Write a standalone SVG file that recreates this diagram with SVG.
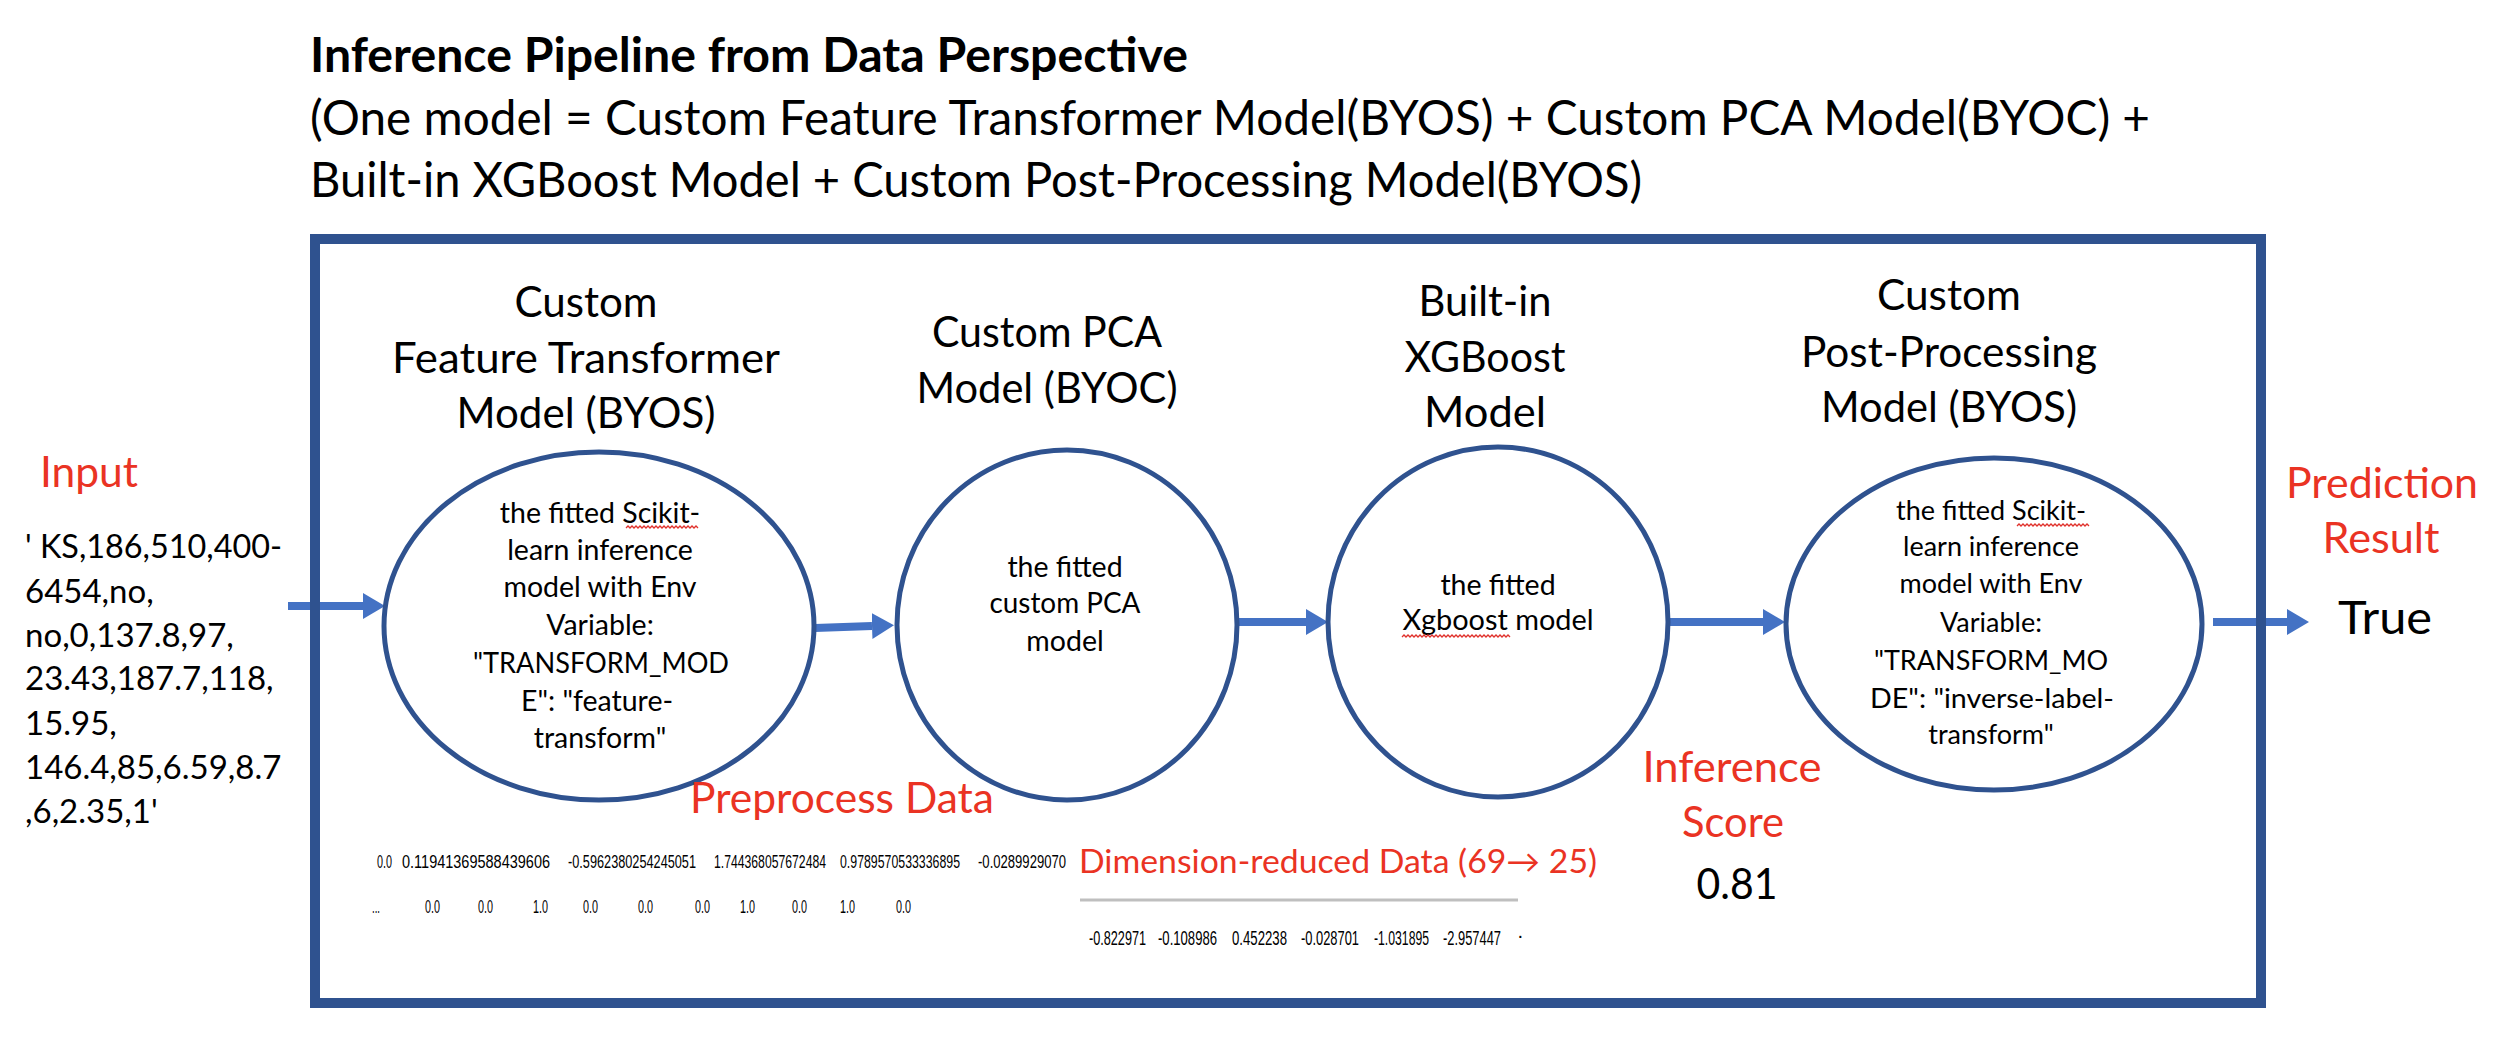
<svg xmlns="http://www.w3.org/2000/svg" width="2496" height="1064" viewBox="0 0 2496 1064">
<style>
.t{font-family:Lato,"Liberation Sans",sans-serif;fill:#000}
.tl{font-size:48px}
.tb{font-size:47px;font-weight:bold}
.h{font-size:42px;text-anchor:middle}
.in{font-size:28.5px;text-anchor:middle}
.in4{font-size:27px;text-anchor:middle}
.red{fill:#EA3323;font-size:42px}
.mid{text-anchor:middle}
.data{font-size:33px}
.big{font-size:46px}
.num{font-family:"Liberation Sans",Arial,sans-serif;font-size:18px;fill:#000}
.num2{font-family:"Liberation Sans",Arial,sans-serif;font-size:20px;fill:#000}
.node{fill:#fff;stroke:#2F528F;stroke-width:5}
.conn{stroke:#4472C4;stroke-width:8;fill:none;marker-end:url(#ah)}
.sq{fill:none;stroke:#E0312B;stroke-width:1.3}
.frame{fill:none;stroke:#2F528F;stroke-width:10}
</style>
<defs>
<marker id="ah" markerUnits="userSpaceOnUse" markerWidth="22" markerHeight="26" viewBox="0 0 22 26" refX="0" refY="13" orient="auto"><path d="M0,0 L22,13 L0,26 z" fill="#4472C4"/></marker>
</defs>
<rect width="2496" height="1064" fill="#fff"/>

<g id="title">
<text class="t tb" x="310" y="72" textLength="878" lengthAdjust="spacingAndGlyphs">Inference Pipeline from Data Perspective</text>
<text class="t tl" x="310" y="135" textLength="1840" lengthAdjust="spacingAndGlyphs">(One model = Custom Feature Transformer Model(BYOS) + Custom PCA Model(BYOC) +</text>
<text class="t tl" x="310" y="197" textLength="1332" lengthAdjust="spacingAndGlyphs">Built-in XGBoost Model + Custom Post-Processing Model(BYOS)</text>
</g>

<g id="connectors">
<line class="conn" x1="288" y1="606" x2="363" y2="606"/>
<line class="conn" x1="815" y1="628" x2="872" y2="626"/>
<line class="conn" x1="1237" y1="622" x2="1306" y2="622"/>
<line class="conn" x1="1670" y1="622" x2="1763" y2="622"/>
<line class="conn" x1="2213" y1="622" x2="2287" y2="622"/>
</g>

<rect class="frame" x="315" y="239" width="1946" height="764"/>

<g id="input">
<text class="t red" x="40" y="487" textLength="98" lengthAdjust="spacingAndGlyphs">Input</text>
<text class="t data" x="25" y="558" textLength="257" lengthAdjust="spacingAndGlyphs">' KS,186,510,400-</text>
<text class="t data" x="25" y="603">6454,no,</text>
<text class="t data" x="25" y="647">no,0,137.8,97,</text>
<text class="t data" x="25" y="690">23.43,187.7,118,</text>
<text class="t data" x="25" y="735">15.95,</text>
<text class="t data" x="25" y="779">146.4,85,6.59,8.7</text>
<text class="t data" x="25" y="823">,6,2.35,1'</text>
</g>

<g id="node-feature-transformer">
<text class="t h" x="586" y="317" textLength="143" lengthAdjust="spacingAndGlyphs">Custom</text>
<text class="t h" x="586" y="373" textLength="388" lengthAdjust="spacingAndGlyphs">Feature Transformer</text>
<text class="t h" x="586" y="428" textLength="259" lengthAdjust="spacingAndGlyphs">Model (BYOS)</text>
<ellipse class="node" cx="599" cy="626" rx="215" ry="174"/>
<text class="t in" x="600" y="523">the fitted Scikit-</text>
<text class="t in" x="600" y="560">learn inference</text>
<text class="t in" x="600" y="597">model with Env</text>
<text class="t in" x="600" y="635">Variable:</text>
<text class="t in" x="601" y="673" textLength="256" lengthAdjust="spacingAndGlyphs">"TRANSFORM_MOD</text>
<text class="t in" x="597" y="711">E": "feature-</text>
<text class="t in" x="600" y="748">transform"</text>
<path class="sq" d="M626,528 l2,-2 l2,2 l2,-2 l2,2 l2,-2 l2,2 l2,-2 l2,2 l2,-2 l2,2 l2,-2 l2,2 l2,-2 l2,2 l2,-2 l2,2 l2,-2 l2,2 l2,-2 l2,2 l2,-2 l2,2 l2,-2 l2,2 l2,-2 l2,2 l2,-2 l2,2 l2,-2 l2,2 l2,-2 l2,2 l2,-2 l2,2 l2,-2 l2,2"/>
</g>

<g id="node-pca">
<text class="t h" x="1047" y="347" textLength="230" lengthAdjust="spacingAndGlyphs">Custom PCA</text>
<text class="t h" x="1047" y="403" textLength="261" lengthAdjust="spacingAndGlyphs">Model (BYOC)</text>
<ellipse class="node" cx="1067" cy="625" rx="170" ry="175"/>
<text class="t in" x="1065" y="577">the fitted</text>
<text class="t in" x="1065" y="613" textLength="151" lengthAdjust="spacingAndGlyphs">custom PCA</text>
<text class="t in" x="1065" y="651">model</text>
</g>

<g id="node-xgboost">
<text class="t h" x="1485" y="316" textLength="133" lengthAdjust="spacingAndGlyphs">Built-in</text>
<text class="t h" x="1485" y="372" textLength="161" lengthAdjust="spacingAndGlyphs">XGBoost</text>
<text class="t h" x="1485" y="427" textLength="122" lengthAdjust="spacingAndGlyphs">Model</text>
<ellipse class="node" cx="1498" cy="622" rx="170" ry="175"/>
<text class="t in" x="1498" y="595">the fitted</text>
<text class="t in" x="1498" y="630" textLength="191" lengthAdjust="spacingAndGlyphs">Xgboost model</text>
<path class="sq" d="M1402,637 l2,-2 l2,2 l2,-2 l2,2 l2,-2 l2,2 l2,-2 l2,2 l2,-2 l2,2 l2,-2 l2,2 l2,-2 l2,2 l2,-2 l2,2 l2,-2 l2,2 l2,-2 l2,2 l2,-2 l2,2 l2,-2 l2,2 l2,-2 l2,2 l2,-2 l2,2 l2,-2 l2,2 l2,-2 l2,2 l2,-2 l2,2 l2,-2 l2,2 l2,-2 l2,2 l2,-2 l2,2 l2,-2 l2,2 l2,-2 l2,2 l2,-2 l2,2 l2,-2 l2,2 l2,-2 l2,2 l2,-2 l2,2 l2,-2 l2,2"/>
</g>

<g id="node-postprocessing">
<text class="t h" x="1949" y="310" textLength="144" lengthAdjust="spacingAndGlyphs">Custom</text>
<text class="t h" x="1949" y="367" textLength="296" lengthAdjust="spacingAndGlyphs">Post-Processing</text>
<text class="t h" x="1949" y="422" textLength="256" lengthAdjust="spacingAndGlyphs">Model (BYOS)</text>
<ellipse class="node" cx="1994" cy="624" rx="208" ry="166"/>
<text class="t in4" x="1991" y="520">the fitted Scikit-</text>
<text class="t in4" x="1991" y="556">learn inference</text>
<text class="t in4" x="1991" y="593">model with Env</text>
<text class="t in4" x="1991" y="632">Variable:</text>
<text class="t in4" x="1991" y="670">"TRANSFORM_MO</text>
<text class="t in4" x="1992" y="708" textLength="244" lengthAdjust="spacingAndGlyphs">DE": "inverse-label-</text>
<text class="t in4" x="1991" y="744">transform"</text>
<path class="sq" d="M2017,526 l2,-2 l2,2 l2,-2 l2,2 l2,-2 l2,2 l2,-2 l2,2 l2,-2 l2,2 l2,-2 l2,2 l2,-2 l2,2 l2,-2 l2,2 l2,-2 l2,2 l2,-2 l2,2 l2,-2 l2,2 l2,-2 l2,2 l2,-2 l2,2 l2,-2 l2,2 l2,-2 l2,2 l2,-2 l2,2 l2,-2 l2,2 l2,-2 l2,2"/>
</g>

<g id="output">
<text class="t red mid" x="2382" y="498" textLength="192" lengthAdjust="spacingAndGlyphs">Prediction</text>
<text class="t red mid" x="2381" y="553" textLength="117" lengthAdjust="spacingAndGlyphs">Result</text>
<text class="t big mid" x="2385" y="634" textLength="94" lengthAdjust="spacingAndGlyphs">True</text>
</g>

<g id="inference-score">
<text class="t red mid" x="1732" y="782" textLength="179" lengthAdjust="spacingAndGlyphs">Inference</text>
<text class="t red mid" x="1733" y="837" textLength="102" lengthAdjust="spacingAndGlyphs">Score</text>
<text class="t mid" style="font-size:42px" x="1737" y="899" textLength="81" lengthAdjust="spacingAndGlyphs">0.81</text>
</g>

<g id="preprocess-data">
<text class="t red" x="690" y="813" textLength="304" lengthAdjust="spacingAndGlyphs">Preprocess Data</text>
<text class="num" x="377" y="868" textLength="15" lengthAdjust="spacingAndGlyphs">0.0</text>
<text class="num" x="402" y="868" textLength="148" lengthAdjust="spacingAndGlyphs">0.11941369588439606</text>
<text class="num" x="568" y="868" textLength="128" lengthAdjust="spacingAndGlyphs">-0.5962380254245051</text>
<text class="num" x="714" y="868" textLength="112" lengthAdjust="spacingAndGlyphs">1.744368057672484</text>
<text class="num" x="840" y="868" textLength="120" lengthAdjust="spacingAndGlyphs">0.9789570533336895</text>
<text class="num" x="978" y="868" textLength="88" lengthAdjust="spacingAndGlyphs">-0.0289929070</text>
<text class="num" x="372" y="913" textLength="8" lengthAdjust="spacingAndGlyphs">...</text>
<text class="num" x="425" y="913" textLength="15" lengthAdjust="spacingAndGlyphs">0.0</text>
<text class="num" x="478" y="913" textLength="15" lengthAdjust="spacingAndGlyphs">0.0</text>
<text class="num" x="533" y="913" textLength="15" lengthAdjust="spacingAndGlyphs">1.0</text>
<text class="num" x="583" y="913" textLength="15" lengthAdjust="spacingAndGlyphs">0.0</text>
<text class="num" x="638" y="913" textLength="15" lengthAdjust="spacingAndGlyphs">0.0</text>
<text class="num" x="695" y="913" textLength="15" lengthAdjust="spacingAndGlyphs">0.0</text>
<text class="num" x="740" y="913" textLength="15" lengthAdjust="spacingAndGlyphs">1.0</text>
<text class="num" x="792" y="913" textLength="15" lengthAdjust="spacingAndGlyphs">0.0</text>
<text class="num" x="840" y="913" textLength="15" lengthAdjust="spacingAndGlyphs">1.0</text>
<text class="num" x="896" y="913" textLength="15" lengthAdjust="spacingAndGlyphs">0.0</text>
</g>

<g id="dimension-reduced-data">
<text class="t red" style="font-size:32px" x="1079" y="873" textLength="518" lengthAdjust="spacingAndGlyphs">Dimension-reduced Data (69→ 25)</text>
<line x1="1080" y1="900" x2="1518" y2="900" stroke="#BFBFBF" stroke-width="3"/>
<text class="num2" x="1089" y="945" textLength="57" lengthAdjust="spacingAndGlyphs">-0.822971</text>
<text class="num2" x="1158" y="945" textLength="59" lengthAdjust="spacingAndGlyphs">-0.108986</text>
<text class="num2" x="1232" y="945" textLength="55" lengthAdjust="spacingAndGlyphs">0.452238</text>
<text class="num2" x="1301" y="945" textLength="58" lengthAdjust="spacingAndGlyphs">-0.028701</text>
<text class="num2" x="1374" y="945" textLength="55" lengthAdjust="spacingAndGlyphs">-1.031895</text>
<text class="num2" x="1443" y="945" textLength="58" lengthAdjust="spacingAndGlyphs">-2.957447</text>
<text class="num2" x="1517" y="942">·</text>
</g>
</svg>
